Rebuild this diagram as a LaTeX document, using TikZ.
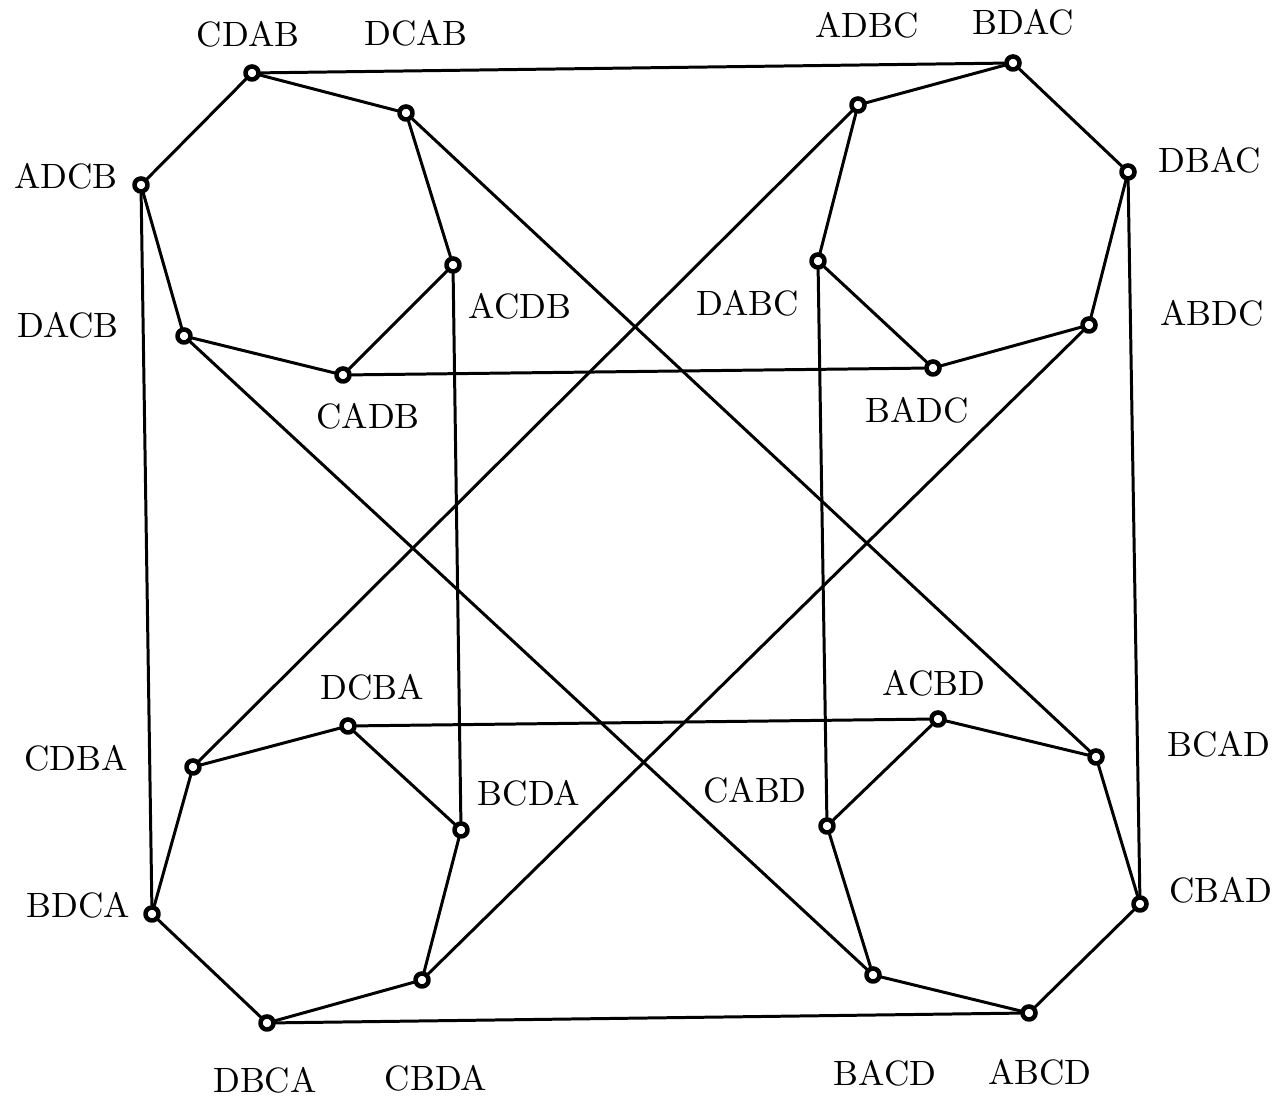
\documentclass[tikz,border=0pt]{standalone}
\begin{document}
\begin{tikzpicture}[x=0.01cm, y=-0.01cm, line cap=round, line join=round,
    vertice/.style={circle, draw, line width=1.3pt, inner sep=0pt, minimum size=0.13cm, fill=white},
    spigolo/.style={line width=0.85pt}]
  \useasboundingbox (0,0) rectangle (1287,1101);

  % vertici
  \foreach \n/\x/\y in {CDAB/252/73, DCAB/406/113, ACDB/453/265, CADB/343/375, DACB/184/336, ADCB/141/185,
      ADBC/858/105, BDAC/1013/63, DBAC/1128/172, ABDC/1089/325, BADC/933/368, DABC/818/261,
      CDBA/193/767, DCBA/348/726, BCDA/461/830, CBDA/422/980, DBCA/267/1023, BDCA/152/914,
      ACBD/938/719, BCAD/1096/757, CBAD/1140/904, ABCD/1029/1013, BACD/873/975, CABD/827/826}
    \node[vertice] (\n) at (\x,\y) {};

  % etichette
  \foreach \n/\x/\y in {CDAB/248/34, DCAB/416/33, ADBC/867/25, BDAC/1023/22, DBAC/1210/160, ABDC/1212/313,
      ADCB/66/176, DACB/68/325, ACDB/520/306, DABC/748/303, CADB/368/416, BADC/917/410,
      DCBA/372/687, ACBD/934/683, CDBA/76/758, BCDA/529/793, CABD/755/790, BCAD/1219/744,
      BDCA/78/905, CBAD/1221/890, DBCA/265/1080, CBDA/436/1078, BACD/885/1073, ABCD/1040/1072}
    \node (l\n) at (\x,\y) {\n};

  % esagoni
  \foreach \a/\b in {CDAB/DCAB, DCAB/ACDB, ACDB/CADB, CADB/DACB, DACB/ADCB, ADCB/CDAB,
      ADBC/BDAC, BDAC/DBAC, DBAC/ABDC, ABDC/BADC, BADC/DABC, DABC/ADBC,
      CDBA/DCBA, DCBA/BCDA, BCDA/CBDA, CBDA/DBCA, DBCA/BDCA, BDCA/CDBA,
      ACBD/BCAD, BCAD/CBAD, CBAD/ABCD, ABCD/BACD, BACD/CABD, CABD/ACBD}
    \draw[spigolo] (\a) -- (\b);

  % collegamenti
  \foreach \a/\b in {CDAB/BDAC, CADB/BADC, DCBA/ACBD, DBCA/ABCD,
      ADCB/BDCA, ACDB/BCDA, DABC/CABD, DBAC/CBAD,
      DCAB/BCAD, DACB/BACD, ADBC/CDBA, ABDC/CBDA}
    \draw[spigolo] (\a) -- (\b);
\end{tikzpicture}
\end{document}
